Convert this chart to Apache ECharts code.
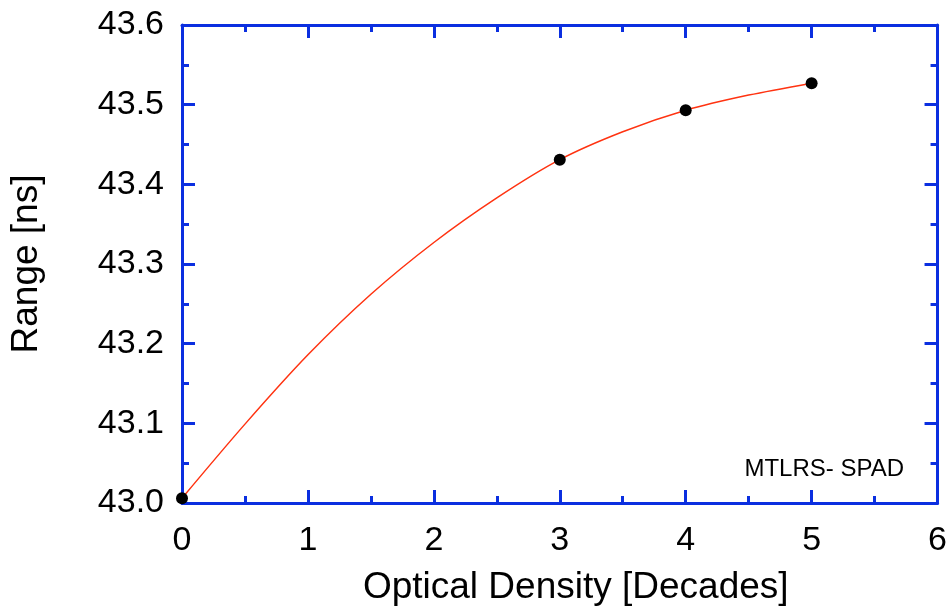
<!DOCTYPE html>
<html>
<head>
<meta charset="utf-8">
<script src="https://cdn.jsdelivr.net/npm/echarts@6/dist/echarts.min.js"></script>
<style>
html, body { margin: 0; padding: 0; background: #fff; }
#chart { width: 950px; height: 611px; }
</style>
</head>
<body>
<div id="chart"></div>
<script>
// measured points
var ptX = [0, 3, 4, 5];
var ptY = [43.006, 43.431, 43.493, 43.527];
// fitted curve
var fitX = [0, 0.5, 1, 1.5, 2, 2.5, 3, 3.5, 4, 4.5, 5];
var fitY = [43.006, 43.099, 43.186, 43.262, 43.327, 43.383, 43.431, 43.466, 43.493, 43.512, 43.527];
var xTicks = [0, 1, 2, 3, 4, 5, 6];
var yTicks = [43.0, 43.1, 43.2, 43.3, 43.4, 43.5, 43.6];

var blue = "#0b2fe0";
var font = "'Liberation Sans', Arial, Helvetica, sans-serif";

function axisCommon() {
    return {
        axisLine: { show: true, onZero: false, lineStyle: { color: blue, width: 3 } },
        axisTick: { show: true, inside: true, length: 13, lineStyle: { color: blue, width: 3 } },
        minorTick: { show: true, splitNumber: 2, length: 7, lineStyle: { color: blue, width: 3 } },
        splitLine: { show: false },
    };
}

var myChart = echarts.init(document.getElementById("chart"));

var xBottom = Object.assign(axisCommon(), {
    type: "value",
    position: "bottom",
    min: xTicks[0],
    max: xTicks[xTicks.length - 1],
    interval: 1,
    name: "Optical Density [Decades]",
    nameLocation: "middle",
    nameGap: 66,
    nameTextStyle: { fontFamily: font, fontSize: 37, color: "#000", padding: [0, 0, 0, 32] },
    axisLabel: { show: true, margin: 21, fontFamily: font, fontSize: 34, color: "#000" },
});
var xTop = Object.assign(axisCommon(), {
    type: "value",
    position: "top",
    min: xTicks[0],
    max: xTicks[xTicks.length - 1],
    interval: 1,
    axisLabel: { show: false },
});
var yLeft = Object.assign(axisCommon(), {
    type: "value",
    position: "left",
    min: yTicks[0],
    max: yTicks[yTicks.length - 1],
    interval: 0.1,
    name: "Range [ns]",
    nameLocation: "middle",
    nameGap: 137,
    nameTextStyle: { fontFamily: font, fontSize: 37, color: "#000" },
    axisLabel: {
        show: true, margin: 18, fontFamily: font, fontSize: 34, color: "#000",
        formatter: function (v) { return v.toFixed(1); },
    },
});
var yRight = Object.assign(axisCommon(), {
    type: "value",
    position: "right",
    min: yTicks[0],
    max: yTicks[yTicks.length - 1],
    interval: 0.1,
    axisLabel: { show: false },
});

myChart.setOption({
    animation: false,
    grid: { left: 182, right: 12, top: 25, bottom: 103, containLabel: false },
    xAxis: [xBottom, xTop],
    yAxis: [yLeft, yRight],
    graphic: [{
        type: "text",
        right: 46,
        top: 457,
        style: { text: "MTLRS- SPAD", fontFamily: font, fontSize: 24, fill: "#000" },
    }],
    series: [{
        name: "fit",
        type: "line",
        smooth: 0.3,
        showSymbol: false,
        symbol: "none",
        lineStyle: { color: "#ff3311", width: 1.5 },
        data: fitX.map(function (x, i) { return [x, fitY[i]]; }),
        z: 3,
    }, {
        name: "data",
        type: "scatter",
        symbolSize: 12,
        itemStyle: { color: "#000", opacity: 1 },
        data: ptX.map(function (x, i) { return [x, ptY[i]]; }),
        z: 4,
    }],
});
window.addEventListener("resize", function () {
    myChart.resize();
});
</script>
</body>
</html>
